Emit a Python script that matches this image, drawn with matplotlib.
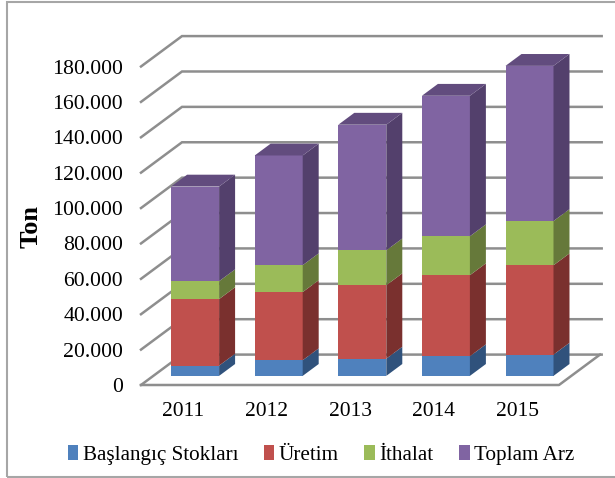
import numpy as np
import matplotlib
matplotlib.use('Agg')
import matplotlib.pyplot as plt
from matplotlib.patches import Polygon, Patch, Rectangle

plt.rcParams['font.family'] = ['Liberation Serif', 'DejaVu Serif']

years = ['2011', '2012', '2013', '2014', '2015']
ytick_values = [0, 20000, 40000, 60000, 80000, 100000, 120000, 140000, 160000, 180000]
ytick_labels = ['0', '20.000', '40.000', '60.000', '80.000', '100.000',
                '120.000', '140.000', '160.000', '180.000']

baslangic = [5800, 8850, 9750, 11100, 12000]
uretim = [37600, 38500, 41500, 45800, 50500]
ithalat = [10100, 15200, 19700, 22000, 25000]
toplam = [53500, 62000, 71000, 79400, 87700]

names = ['Başlangıç Stokları', 'Üretim', 'İthalat', 'Toplam Arz']
series = [baslangic, uretim, ithalat, toplam]
front = ['#4F81BD', '#C0504D', '#9BBB59', '#8064A2']
side = ['#30527C', '#7A302E', '#66793A', '#53406C']
top_col = '#624C7E'
grid_col = '#8E8E8E'

W, H = 615, 478
fig = plt.figure(figsize=(W / 100, H / 100), dpi=100)
fig.add_artist(Rectangle((7 / W, 1 / H), 620 / W, 475 / H, transform=fig.transFigure,
                         fill=False, ec='#A6A6A6', lw=1.5))

ax = fig.add_axes([141 / W, (H - 385) / H, 418 / W, 318.5 / H])
ax.set_xlim(-0.5, 4.5)
ax.set_ylim(0, 180000)
x = np.arange(len(years))

# oblique depth of the floor, in data units
depth_x = 41 / 83.6
depth_y = 30.5 / 35.5 * 20000

# walls
for v in ytick_values:
    ax.plot([-0.5, -0.5 + depth_x, 4.5 + depth_x + 0.02], [v, v + depth_y, v + depth_y],
            color=grid_col, lw=1.8, clip_on=False, zorder=1, solid_joinstyle='miter')
ax.plot([-0.5, 4.5, 4.5 + depth_x], [0, 0, depth_y], color=grid_col, lw=1.8,
        clip_on=False, zorder=1)

# bars sit 0.3 into the floor and take up 0.39 of its depth
width = 48 / 83.6
off_x = 0.3 * depth_x
off_y = 0.3 * depth_y
dx = 0.39 * depth_x
dy = 0.39 * depth_y

bottom = np.zeros(len(years))
for vals, fc, sc in zip(series, front, side):
    vals = np.array(vals)
    ax.bar(x + off_x, vals, width, bottom=bottom + off_y, color=fc, zorder=3, clip_on=False)
    for i in x:
        r = i + off_x + width / 2
        y0 = bottom[i] + off_y
        y1 = y0 + vals[i]
        ax.add_patch(Polygon([(r, y0), (r + dx, y0 + dy), (r + dx, y1 + dy), (r, y1)],
                             fc=sc, ec='none', zorder=3, clip_on=False))
    bottom = bottom + vals

for i in x:
    l = i + off_x - width / 2
    r = l + width
    t = bottom[i] + off_y
    ax.add_patch(Polygon([(l, t), (r, t), (r + dx, t + dy), (l + dx, t + dy)],
                         fc=top_col, ec='none', zorder=3, clip_on=False))

for s in ax.spines.values():
    s.set_visible(False)
ax.patch.set_visible(False)
ax.set_xticks(x)
ax.set_xticklabels(years, fontsize=15.5)
ax.set_yticks(ytick_values)
ax.set_yticklabels(ytick_labels, fontsize=15.7, color='black')
ax.tick_params(axis='both', length=0)
ax.tick_params(axis='y', pad=13)
ax.tick_params(axis='x', pad=12)

fig.text(31 / W, 1 - 226 / H, 'Ton', rotation=90, fontsize=19, fontweight='bold',
         ha='center', va='center')

handles = [Patch(fc=c, ec='none') for c in front]
fig.legend(handles, names, ncol=4, loc='center', bbox_to_anchor=(321 / W, 1 - 455 / H),
           frameon=False, fontsize=15.2, handlelength=0.5, handleheight=0.7,
           handletextpad=0.22, columnspacing=1.2, borderpad=0, borderaxespad=0)

fig.savefig('out.png', dpi=100)
